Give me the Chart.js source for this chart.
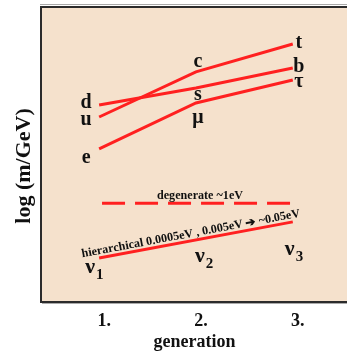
<!DOCTYPE html>
<html>
<head>
<meta charset="utf-8">
<script src="https://cdn.jsdelivr.net/npm/chart.js@4/dist/chart.umd.min.js"></script>
<style>
  html, body { margin: 0; padding: 0; background: #fff; }
</style>
</head>
<body>
<canvas id="chart" width="347" height="351"></canvas>
<script>
// generations on the x axis
const generations = [1, 2, 3];
const genLabels = ['1.', '2.', '3.'];

// log(m/GeV), arbitrary 0-100 units
const upQuarks = [62.8, 78.2, 87.7];
const upNames = ['u', 'c', 't'];
const downQuarks = [66.9, 72.7, 79.5];
const downNames = ['d', 's', 'b'];
const leptons = [51.9, 67.6, 75.4];
const leptonNames = ['e', 'μ', 'τ'];

// neutrinos
const degenerateX = [1.03, 3];
const degenerate = [33.4, 33.4];
const hierarchicalX = [1, 3];
const hierarchical = [14.7, 27.0];
const nuSubs = ['1', '2', '3'];

const RED = '#ff2020';
const SERIF = '"Liberation Serif", "DejaVu Serif", serif';

function pts(xs, ys) {
    return xs.map((x, i) => ({ x: x, y: ys[i] }));
}

// where each name sits relative to its point, in pixels
const nameOffsets = {
    u: [-13, 3], c: [2, -10], t: [6, -1],
    d: [-13, -2], s: [2, 7], b: [6, -1],
    e: [-13, 9], 'μ': [2, 15], 'τ': [6, 2]
};
const nuOffsets = [[-9, 10], [4, 17], [-3, 28]];

const decorPlugin = {
    id: 'decor',
    beforeDatasetsDraw(chart) {
        const { ctx, chartArea: a } = chart;
        ctx.save();
        ctx.fillStyle = '#f5e1cc';
        ctx.fillRect(a.left, a.top, a.right - a.left, a.bottom - a.top);
        // soft shadow then frame
        ctx.strokeStyle = '#aaaaaa';
        ctx.lineWidth = 1;
        ctx.beginPath();
        ctx.moveTo(a.left - 2, a.top - 3.5);
        ctx.lineTo(a.right, a.top - 3.5);
        ctx.moveTo(a.left, a.bottom + 2.5);
        ctx.lineTo(a.right, a.bottom + 2.5);
        ctx.stroke();
        ctx.strokeStyle = '#2b2b2b';
        ctx.lineWidth = 2;
        ctx.beginPath();
        ctx.moveTo(a.right, a.top - 1);
        ctx.lineTo(a.left - 1, a.top - 1);
        ctx.lineTo(a.left - 1, a.bottom + 1);
        ctx.lineTo(a.right, a.bottom + 1);
        ctx.stroke();
        ctx.restore();
    },
    afterDraw(chart) {
        const { ctx, scales: { x, y } } = chart;
        ctx.save();
        ctx.fillStyle = '#111';

        // particle names
        ctx.font = 'bold 20px ' + SERIF;
        ctx.textAlign = 'center';
        ctx.textBaseline = 'middle';
        [[upQuarks, upNames], [downQuarks, downNames], [leptons, leptonNames]].forEach(([vals, names]) => {
            vals.forEach((v, i) => {
                const off = nameOffsets[names[i]];
                ctx.fillText(names[i], x.getPixelForValue(generations[i]) + off[0], y.getPixelForValue(v) + off[1]);
            });
        });

        // neutrino names
        const x0 = hierarchicalX[0], x1 = hierarchicalX[1];
        generations.forEach((g, i) => {
            const v = hierarchical[0] + (hierarchical[1] - hierarchical[0]) * (g - x0) / (x1 - x0);
            const px = x.getPixelForValue(g) + nuOffsets[i][0];
            const py = y.getPixelForValue(v) + nuOffsets[i][1];
            ctx.font = 'bold 22px ' + SERIF;
            ctx.textAlign = 'center';
            ctx.textBaseline = 'alphabetic';
            ctx.fillText('ν', px, py + 5);
            const w = ctx.measureText('ν').width;
            ctx.font = 'bold 15px ' + SERIF;
            ctx.textAlign = 'left';
            ctx.fillText(nuSubs[i], px + w / 2 + 1, py + 11);
        });

        // degenerate label
        ctx.font = 'bold 12px ' + SERIF;
        ctx.textAlign = 'center';
        ctx.textBaseline = 'alphabetic';
        const dy = y.getPixelForValue(degenerate[0]);
        const dText = 'degenerate ~1eV';
        const dW = ctx.measureText(dText).width;
        ctx.save();
        ctx.translate(200, dy - 4);
        ctx.scale(86 / dW, 1);
        ctx.fillText(dText, 0, 0);
        ctx.restore();

        // hierarchical label along the line
        const hx0 = x.getPixelForValue(x0), hy0 = y.getPixelForValue(hierarchical[0]);
        const hx1 = x.getPixelForValue(x1), hy1 = y.getPixelForValue(hierarchical[1]);
        const ang = Math.atan2(hy1 - hy0, hx1 - hx0);
        const hText = 'hierarchical 0.0005eV , 0.005eV ➔ ~0.05eV';
        ctx.font = 'bold 12px ' + SERIF;
        const hW = ctx.measureText(hText).width;
        ctx.save();
        ctx.translate((hx0 + hx1) / 2 - 4, (hy0 + hy1) / 2);
        ctx.rotate(ang);
        ctx.scale(222 / hW, 1);
        ctx.fillText(hText, 0, -3);
        ctx.restore();

        // y axis title
        ctx.font = 'bold 22px ' + SERIF;
        ctx.textAlign = 'center';
        ctx.textBaseline = 'middle';
        ctx.translate(24, 166);
        ctx.rotate(-Math.PI / 2);
        ctx.fillText('log (m/GeV)', 0, 0);
        ctx.restore();
    }
};

const lineStyle = {
    borderColor: RED,
    borderWidth: 3,
    pointRadius: 0,
    tension: 0,
    fill: false
};

new Chart(document.getElementById('chart'), {
    type: 'line',
    data: {
        datasets: [
            Object.assign({ label: 'up', data: pts(generations, upQuarks) }, lineStyle),
            Object.assign({ label: 'down', data: pts(generations, downQuarks) }, lineStyle),
            Object.assign({ label: 'leptons', data: pts(generations, leptons) }, lineStyle),
            Object.assign({ label: 'degenerate', data: pts(degenerateX, degenerate), borderDash: [23, 10] }, lineStyle),
            Object.assign({ label: 'hierarchical', data: pts(hierarchicalX, hierarchical) }, lineStyle)
        ]
    },
    options: {
        responsive: false,
        animation: false,
        devicePixelRatio: 1,
        layout: { padding: { top: 8, left: 0, right: 0, bottom: 0 } },
        plugins: {
            legend: { display: false },
            tooltip: { enabled: false }
        },
        scales: {
            x: {
                type: 'linear',
                min: 0.41,
                max: 3.56,
                afterFit: s => { s.height = 50; },
                afterBuildTicks: s => { s.ticks = generations.map(v => ({ value: v })); },
                grid: { display: false, drawTicks: false },
                border: { display: false },
                ticks: {
                    padding: 10,
                    labelOffset: 5,
                    color: '#111',
                    font: { family: SERIF, size: 18, weight: 'bold' },
                    callback: (v) => genLabels[generations.indexOf(v)]
                },
                title: {
                    display: true,
                    text: 'generation',
                    color: '#111',
                    padding: 0,
                    font: { family: SERIF, size: 18, weight: 'bold', lineHeight: 1 }
                }
            },
            y: {
                min: 0,
                max: 100,
                afterFit: s => { s.width = 42; },
                grid: { display: false, drawTicks: false },
                border: { display: false },
                ticks: { display: false }
            }
        }
    },
    plugins: [decorPlugin]
});
</script>
</body>
</html>
